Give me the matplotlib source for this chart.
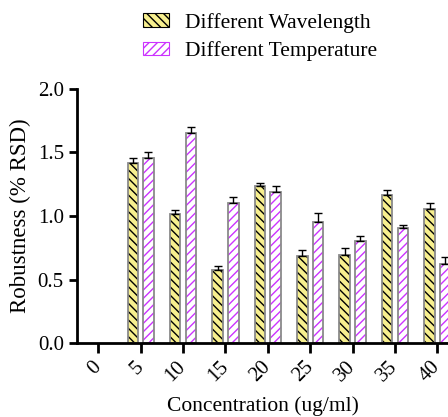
import numpy as np
import matplotlib
matplotlib.use('Agg')
import matplotlib.pyplot as plt
from matplotlib.patches import Patch

plt.rcParams['font.family'] = ['Liberation Serif', 'DejaVu Serif']
plt.rcParams['hatch.linewidth'] = 1.0

# 数据
concentrations = ['0', '5', '10', '15', '20', '25', '30', '35', '40']
wavelength = [np.nan, 1.415, 1.013, 0.572, 1.236, 0.685, 0.695, 1.165, 1.055]
wavelength_err = [np.nan, 0.044, 0.037, 0.034, 0.026, 0.050, 0.053, 0.042, 0.050]
temperature = [np.nan, 1.457, 1.656, 1.105, 1.186, 0.955, 0.806, 0.908, 0.624]
temperature_err = [np.nan, 0.050, 0.040, 0.045, 0.052, 0.068, 0.039, 0.024, 0.050]

yellow = '#f7ef8e'
violet = '#cc33ff'
edge = '#8a8a8a'

fig = plt.figure(figsize=(4.48, 4.17), dpi=100)
ax = fig.add_axes([0.172, 0.177, 0.828, 0.61])

x = np.arange(len(concentrations))
w = 0.25
off = 0.185

# 先画填充和斜线，再画灰色边框
ax.bar(x - off, wavelength, w, color=yellow, edgecolor='black', hatch='\\\\\\\\', linewidth=0)
ax.bar(x - off, wavelength, w, color='none', edgecolor=edge, linewidth=1.3)
ax.bar(x + off, temperature, w, color='white', edgecolor=violet, hatch='////', linewidth=0)
ax.bar(x + off, temperature, w, color='none', edgecolor=edge, linewidth=1.3)

# 误差线，只画上半部分
ax.errorbar(x - off, wavelength, yerr=[np.zeros(len(x)), wavelength_err], fmt='none',
            ecolor='black', elinewidth=1, capsize=3, capthick=1)
ax.errorbar(x + off, temperature, yerr=[np.zeros(len(x)), temperature_err], fmt='none',
            ecolor='black', elinewidth=1, capsize=3, capthick=1)

ax.set_xlim(-0.5, 8.25)
ax.set_ylim(0, 2.0)
ax.set_yticks([0, 0.5, 1.0, 1.5, 2.0])
ax.set_yticklabels(['0.0', '0.5', '1.0', '1.5', '2.0'])
ax.set_xticks(x)
ax.set_xticklabels(concentrations, rotation=45, ha='right', va='center', rotation_mode='anchor')

ax.spines['top'].set_visible(False)
ax.spines['right'].set_visible(False)
ax.spines['left'].set_linewidth(2)
ax.spines['bottom'].set_linewidth(2)
ax.tick_params(axis='both', width=2, length=6, labelsize=15, color='black')
ax.tick_params(axis='x', length=7, pad=8)

ax.set_ylabel('Robustness (% RSD)', fontsize=16.5, labelpad=5)
ax.set_xlabel('Concentration (ug/ml)', fontsize=15.5, labelpad=8)

# 图例
handles = [
    Patch(facecolor=yellow, edgecolor='black', hatch='\\\\\\\\', linewidth=0.8, label='Different Wavelength'),
    Patch(facecolor='white', edgecolor=violet, hatch='////', linewidth=0.8, label='Different Temperature'),
]
fig.legend(handles=handles, loc='upper left', bbox_to_anchor=(0.275, 1.016), frameon=False,
           fontsize=15.5, handlelength=1.25, handleheight=0.6, handletextpad=0.7, labelspacing=0.4)

plt.savefig('out.png', dpi=100)
